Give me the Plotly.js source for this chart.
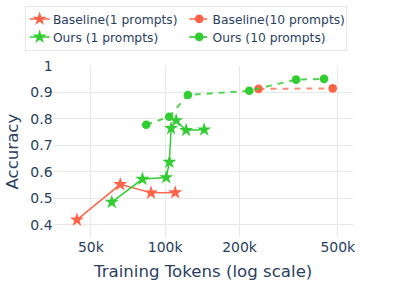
<!DOCTYPE html>
<html>
<head>
<meta charset="utf-8">
<script src="https://cdn.plot.ly/plotly-3.0.1.min.js"></script>
<style>
html,body{margin:0;padding:0;background:#fff;overflow:hidden;width:399px;height:285px;}
#chart{width:600px;height:428.6px;transform:scale(0.665);transform-origin:0 0;}
</style>
</head>
<body>
<div id="chart"></div>
<script>
// Data
const baseline1Tokens = [43900, 65800, 87700, 109800];
const baseline1Acc    = [0.419, 0.553, 0.521, 0.522];

const baseline10Tokens = [238800, 477000];
const baseline10Acc    = [0.913, 0.915];

const ours1Tokens = [60800, 80900, 101000, 104000, 105700, 110800, 121600, 143900];
const ours1Acc    = [0.486, 0.573, 0.579, 0.637, 0.764, 0.794, 0.757, 0.759];

const ours10Tokens = [83800, 103800, 123600, 219000, 339000, 440000];
const ours10Acc    = [0.778, 0.808, 0.890, 0.906, 0.948, 0.951];

const seriesNames = ['Baseline(1 prompts)', 'Baseline(10 prompts)', 'Ours (1 prompts)', 'Ours (10 prompts)'];
const xTickVals = [50000, 100000, 200000, 500000];
const xTickText = ['50k', '100k', '200k', '500k'];
const yTickVals = [0.4, 0.5, 0.6, 0.7, 0.8, 0.9, 1.0];
const yTickText = ['0.4', '0.5', '0.6', '0.7', '0.8', '0.9', '1'];

const RED = '#FF6347', GREEN = '#32CD32';
const FONT = 'DejaVu Sans, sans-serif';

const traces = [
  {x: baseline1Tokens, y: baseline1Acc, name: seriesNames[0], mode: 'lines+markers',
   line: {color: RED, width: 2.2}, marker: {symbol: 'star', size: 16, color: RED}},
  {x: baseline10Tokens, y: baseline10Acc, name: seriesNames[1], mode: 'lines+markers',
   line: {color: 'rgba(255,99,71,0.75)', width: 3, dash: 'dash'}, marker: {symbol: 'circle', size: 13, color: RED}},
  {x: ours1Tokens, y: ours1Acc, name: seriesNames[2], mode: 'lines+markers',
   line: {color: GREEN, width: 2.2}, marker: {symbol: 'star', size: 16, color: GREEN}},
  {x: ours10Tokens, y: ours10Acc, name: seriesNames[3], mode: 'lines+markers',
   line: {color: 'rgba(50,205,50,0.85)', width: 3, dash: 'dash'}, marker: {symbol: 'circle', size: 13, color: GREEN}}
];

const layout = {
  width: 600, height: 428.6,
  margin: {l: 79.7, r: 69.2, t: 99.2, b: 72.2, pad: 0, autoexpand: false},
  paper_bgcolor: '#fff', plot_bgcolor: '#fff',
  font: {family: FONT, color: '#2a3f5f', size: 21},
  showlegend: true,
  legend: {
    orientation: 'h', x: -0.093, xanchor: 'left', y: 1.351, yanchor: 'top',
    entrywidth: 195, font: {family: FONT, size: 18.5, color: '#2a3f5f'},
    bordercolor: '#e6e6e6', borderwidth: 1.5, bgcolor: '#fff', traceorder: 'normal'
  },
  xaxis: {
    type: 'log', range: [Math.log10(35200), Math.log10(577000)],
    tickvals: xTickVals, ticktext: xTickText,
    showgrid: true, gridcolor: '#e8e8e8', gridwidth: 1.5, zeroline: false, showline: false,
    ticks: '', tickfont: {family: FONT, size: 21, color: '#2a3f5f'},
    title: {text: 'Training Tokens (log scale)', font: {family: FONT, size: 25, color: '#2a3f5f'}, standoff: 15}
  },
  yaxis: {
    range: [0.353, 1.0],
    tickvals: yTickVals, ticktext: yTickText,
    showgrid: true, gridcolor: '#e8e8e8', gridwidth: 1.5, zeroline: false, showline: false,
    ticks: '', tickfont: {family: FONT, size: 21, color: '#2a3f5f'},
    title: {text: 'Accuracy', font: {family: FONT, size: 25, color: '#2a3f5f'}, standoff: 10}
  }
};

Plotly.newPlot('chart', traces, layout, {staticPlot: true, displayModeBar: false});
</script>
</body>
</html>
